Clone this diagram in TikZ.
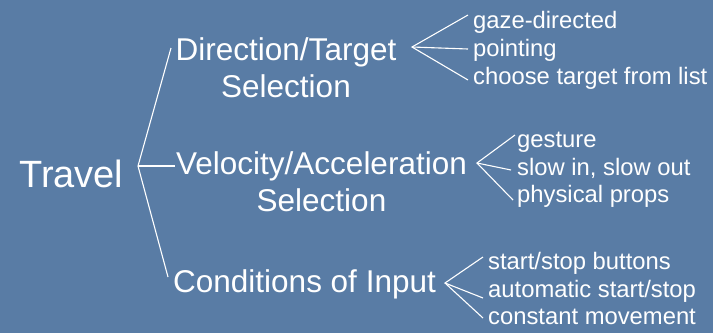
\documentclass[tikz,border=0pt]{standalone}
\usepackage{fontspec}
\setmainfont{Liberation Sans}
\definecolor{bgblue}{RGB}{89,124,165}
\tikzset{
  lbl/.style={anchor=base west, inner sep=0pt, text=white},
  lblc/.style={anchor=base, inner sep=0pt, text=white},
  bigtxt/.style={font=\fontsize{38}{44}\selectfont},
  maintxt/.style={font=\fontsize{31.5}{37}\selectfont},
  subtxt/.style={font=\fontsize{23.8}{28}\selectfont},
  branch/.style={draw=white, line width=1.1pt}
}
\begin{document}
\begin{tikzpicture}[x=1pt,y=-1pt]
\fill[bgblue] (0,0) rectangle (713,333);
\useasboundingbox (0,0) rectangle (713,333);

% level 0
\node[lbl,bigtxt] (travel) at (19,187) {Travel};

% level 1
\node[lblc,maintxt] (dir) at (286,60) {Direction/Target};
\node[lblc,maintxt] (dirsel) at (286,97) {Selection};
\node[lblc,maintxt] (vel) at (321.5,174) {Velocity/Acceleration};
\node[lblc,maintxt] (velsel) at (321.5,211) {Selection};
\node[lbl,maintxt] (cond) at (173,292) {Conditions of Input};

% level 2
\node[lbl,subtxt] (gaze) at (473,28) {gaze-directed};
\node[lbl,subtxt] (point) at (473,56) {pointing};
\node[lbl,subtxt] (choose) at (473,84) {choose target from list};

\node[lbl,subtxt] (gest) at (517,147) {gesture};
\node[lbl,subtxt] (slow) at (517,175) {slow in, slow out};
\node[lbl,subtxt] (phys) at (517,202) {physical props};

\node[lbl,subtxt] (start) at (488,269) {start/stop buttons};
\node[lbl,subtxt] (auto) at (488,297) {automatic start/stop};
\node[lbl,subtxt] (const) at (488,324) {constant movement};

% fork points
\coordinate (jT) at (138,166);
\coordinate (eDir) at (171,48);
\coordinate (eVel) at (175,166);
\coordinate (eCond) at (168,277);

\coordinate (jD) at (412,47);
\coordinate (eGaze) at (468,15);
\coordinate (ePoint) at (468,49);
\coordinate (eChoose) at (468,80);

\coordinate (jV) at (477,163);
\coordinate (eGest) at (515,135);
\coordinate (eSlow) at (511,170);
\coordinate (ePhys) at (513,200);

\coordinate (jC) at (445,283);
\coordinate (eStart) at (483,257);
\coordinate (eAuto) at (483,298);
\coordinate (eConst) at (483,318);

% connectors
\draw[branch] (eDir) -- (jT) -- (eCond);
\draw[branch] (jT) -- (eVel);

\draw[branch] (eGaze) -- (jD) -- (eChoose);
\draw[branch] (jD) -- (ePoint);

\draw[branch] (eGest) -- (jV) -- (ePhys);
\draw[branch] (jV) -- (eSlow);

\draw[branch] (eStart) -- (jC) -- (eConst);
\draw[branch] (jC) -- (eAuto);
\end{tikzpicture}
\end{document}
